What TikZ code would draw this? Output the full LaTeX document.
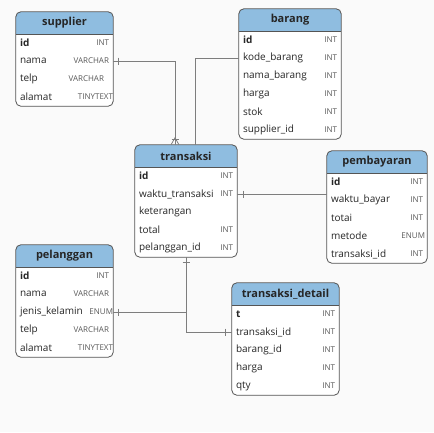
\documentclass[tikz,border=0pt]{standalone}
\usepackage{fontspec}
\setmainfont{Open Sans}
\usetikzlibrary{calc}

\definecolor{headblue}{RGB}{143,189,224}
\definecolor{linegray}{RGB}{125,125,125}
\definecolor{bordergray}{RGB}{85,85,85}
\definecolor{bggray}{RGB}{250,250,250}

\tikzset{
  field/.style={anchor=west, inner sep=0pt, text=black!85, font=\fontsize{10}{12}\selectfont},
  keyfield/.style={field, font=\fontsize{10}{12}\selectfont\bfseries},
  ftype/.style={anchor=east, inner sep=0pt, text=black!65, font=\fontsize{8}{9}\selectfont},
  title/.style={inner sep=0pt, text=black!85, font=\fontsize{11}{13}\selectfont\bfseries},
  rel/.style={draw=linegray, line width=0.8pt},
}

% #1 name, #2 x, #3 y, #4 width, #5 rows, #6 title, #7 field/type list
\newcommand{\dbtable}[7]{%
  \node[fill=white, rounded corners=5pt, inner sep=0pt, minimum width=#4,
        minimum height=22+18*#5] (#1) at (#2+#4/2,#3+11+9*#5) {};
  \begin{scope}
    \clip[rounded corners=5pt] (#1.north west) rectangle (#1.south east);
    \fill[headblue] (#1.north west) rectangle ++(#4,22);
  \end{scope}
  \draw[bordergray, line width=0.8pt] (#2,#3+22) -- ++(#4,0);
  \node[title] (#1-head) at (#2+#4/2,#3+11) {#6};
  \foreach \fld/\typ [count=\i] in {#7} {
    \node[inner sep=0pt, minimum width=#4, minimum height=18] (#1-\i)
      at (#2+#4/2,#3+13+18*\i) {};
    \ifnum\i=1
      \node[keyfield] at ([xshift=4pt]#1-\i.west) {\fld};
    \else
      \node[field] at ([xshift=4pt]#1-\i.west) {\fld};
    \fi
    \node[ftype] at ([xshift=-4pt]#1-\i.east) {\typ};
  }
  \draw[bordergray, line width=0.8pt, rounded corners=5pt] (#1.north west) rectangle (#1.south east);
}

\begin{document}
\begin{tikzpicture}[x=1pt, y=-1pt]
  \fill[bggray] (0,0) rectangle (434,432);
  \useasboundingbox (0,0) rectangle (434,432);

  % tables
  \dbtable{supplier}{16}{12}{97}{4}{supplier}
    {id/INT, nama/VARCHAR, telp/{VARCHAR\kern5pt}, alamat/{TINYTEXT\kern-4pt}}
  \dbtable{barang}{239}{9}{102}{6}{barang}
    {id/INT, kode\_barang/INT, nama\_barang/INT, harga/INT, stok/INT, supplier\_id/INT}
  \dbtable{transaksi}{135}{145}{102}{5}{transaksi}
    {id/INT, waktu\_transaksi/INT, keterangan/{}, total/INT, pelanggan\_id/INT}
  \dbtable{pembayaran}{327}{151}{100}{5}{pembayaran}
    {id/INT, waktu\_bayar/INT, totai/INT, metode/{ENUM\kern-2pt}, transaksi\_id/INT}
  \dbtable{pelanggan}{16}{245}{97}{5}{pelanggan}
    {id/INT, nama/VARCHAR, jenis\_kelamin/{ENUM\kern-4pt}, telp/VARCHAR, alamat/{TINYTEXT\kern-4pt}}
  \dbtable{detail}{232}{283}{107}{5}{transaksi\_detail}
    {t/INT, transaksi\_id/INT, barang\_id/INT, harga/INT, qty/INT}

  % relations
  \draw[rel] (supplier-2.east) -| ([xshift=-11pt]transaksi.north);
  \draw[rel] (barang-2.west) -| ([xshift=9pt]transaksi.north);
  \draw[rel] (transaksi-2.east) -- (transaksi-2.east -| pembayaran.west);
  \coordinate (jn) at (pelanggan-3.east -| transaksi.south);
  \draw[rel] (pelanggan-3.east) -- (jn) -- (transaksi.south);
  \draw[rel] (jn) |- (detail-2.west);

  % cardinality marks
  \draw[rel] ([xshift=5pt]supplier-2.east) ++(0,-3.5) -- ++(0,7);
  \draw[rel] ([xshift=-11pt]transaksi.north) ++(-4,0) -- ++(4,-7) -- ++(4,7);
  \draw[rel] ([xshift=-11pt]transaksi.north) ++(-3.5,-5) -- ++(7,0);
  \draw[rel] ([xshift=6pt]transaksi-2.east) ++(0,-3.5) -- ++(0,7);
  \draw[rel] ([xshift=5pt]pelanggan-3.east) ++(0,-3.5) -- ++(0,7);
  \draw[rel] ([yshift=-5pt]transaksi.south) ++(-3.5,0) -- ++(7,0);
  \draw[rel] ([xshift=-6pt]detail-2.west) ++(0,-3.5) -- ++(0,7);
\end{tikzpicture}
\end{document}
